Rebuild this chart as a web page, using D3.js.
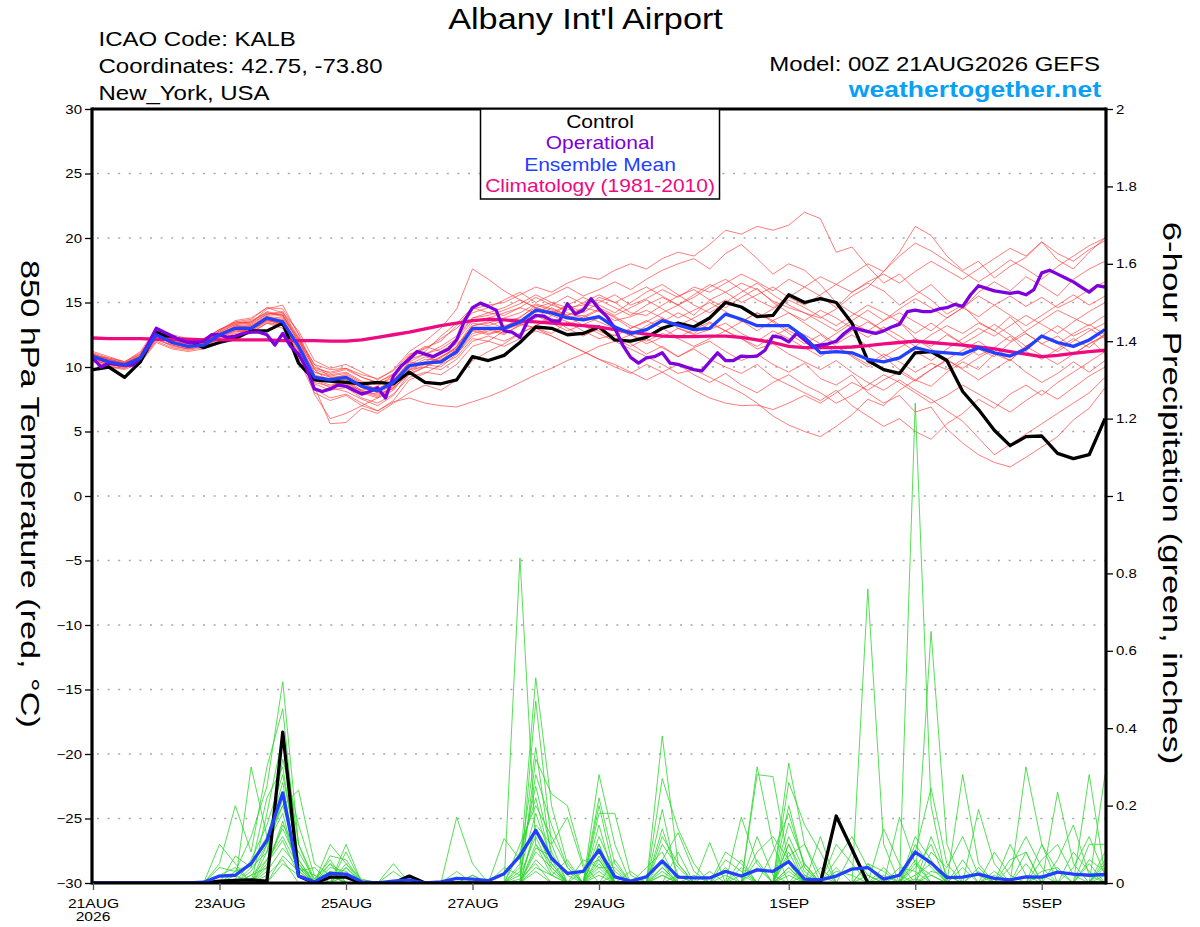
<!DOCTYPE html>
<html>
<head>
<meta charset="utf-8">
<script src="https://cdn.jsdelivr.net/npm/d3@7"></script>
<style>
  body { margin: 0; background: #fff; }
  svg { display: block; font-family: "Liberation Sans", Arial, sans-serif; }
</style>
</head>
<body>
<svg id="chart" width="1200" height="927"></svg>
<script>
//run info
var runStart = Date.UTC(2026, 7, 21, 0);
var stepHours = 6;      // ensemble output
var opStepHours = 3;    // operational output
var runDays = 16;

var tickDates = ['2026-08-21', '2026-08-23', '2026-08-25', '2026-08-27', '2026-08-29', '2026-09-01', '2026-09-03', '2026-09-05'];
var tickLabels = ['21AUG', '23AUG', '25AUG', '27AUG', '29AUG', '1SEP', '3SEP', '5SEP'];
var tempTicks = [30, 25, 20, 15, 10, 5, 0, -5, -10, -15, -20, -25, -30];
var precipTicks = [0, 0.2, 0.4, 0.6, 0.8, 1, 1.2, 1.4, 1.6, 1.8, 2];
var legendItems = ['Control', 'Operational', 'Ensemble Mean', 'Climatology (1981-2010)'];

//850 hPa temperature, 6-hourly
var controlTemp = [9.8,10.0,9.2,10.4,12.7,12.2,12.1,11.5,11.9,12.2,12.8,12.8,13.4,
  10.3,9.0,8.9,8.8,8.7,8.8,8.7,
  9.6,8.8,8.7,9.0,10.8,10.5,10.9,11.9,13.1,13.0,12.5,12.6,13.1,
  12.1,12.0,12.3,13.0,13.4,13.1,13.8,15.0,14.65,13.9,14.0,15.6,
  15.0,15.3,15.0,13.4,10.5,9.8,9.5,11.1,11.2,10.5,8.1,6.7,5.1,3.9,4.6,4.65,3.3,2.9,3.2,6.0];
var meanTemp = [10.8,10.4,10.15,10.7,12.5,11.9,11.6,11.7,12.5,13.0,13.0,13.8,13.5,
  11.6,9.2,9.0,9.2,8.5,8.15,8.8,
  10.1,10.3,10.4,11.2,13.0,13.0,13.0,13.5,14.4,14.2,13.8,13.65,13.9,
  13.1,12.6,12.9,13.6,13.25,12.9,13.0,14.1,13.7,13.2,13.2,13.2,
  12.3,11.1,11.2,11.1,10.6,10.4,10.7,11.5,11.2,11.1,11.0,11.5,11.1,10.85,11.4,12.4,11.9,11.6,12.1,12.9];
var climTemp = [12.25,12.2,12.2,12.2,12.15,12.15,12.15,12.1,12.1,12.1,12.1,12.1,12.05,12.05,12.05,12.0,12.0,
  12.1,12.3,12.5,12.7,12.95,13.2,13.4,13.6,13.7,13.65,13.55,13.5,13.4,13.3,13.2,13.1,
  12.9,12.7,12.55,12.4,12.35,12.35,12.4,12.4,12.3,12.1,11.9,11.6,11.5,11.5,11.5,11.55,
  11.65,11.8,11.9,12.0,11.9,11.8,11.7,11.55,11.4,11.2,11.0,10.8,10.9,11.05,11.2,11.3];
//operational, 3-hourly
var opTemp = [10.7,10.0,10.3,10.2,10.15,10.15,10.7,11.8,13.0,12.7,
  12.4,12.1,11.9,11.9,12.0,12.5,12.5,12.3,12.4,12.6,
  12.7,12.7,12.5,11.7,12.6,11.6,11.0,9.9,8.3,8.1,
  8.3,8.6,8.5,8.2,7.9,8.1,8.4,7.6,9.3,10.1,
  10.6,11.2,11.0,10.8,11.1,11.4,12.1,13.6,14.6,14.95,
  14.7,14.4,12.8,12.7,12.3,13.6,14.0,13.95,13.6,13.55,
  14.9,14.1,14.4,15.3,14.5,13.9,13.0,11.7,10.75,10.3,
  10.7,10.8,11.1,10.3,10.2,10.0,9.8,9.7,10.4,11.1,
  10.5,10.5,10.85,10.8,10.85,11.3,12.4,12.3,11.95,12.6,
  12.1,11.6,11.7,11.8,12.0,12.6,13.05,12.9,12.75,12.6,
  12.8,13.1,13.3,14.3,14.4,14.3,14.3,14.5,14.6,14.85,
  14.7,15.6,16.3,16.1,15.9,15.8,15.7,15.8,15.6,16.0,
  17.3,17.5,17.2,16.9,16.6,16.2,15.8,16.3,16.2];

//ensemble members, temperature
var t01 = [11.0,10.6,10.3,11.0,12.8,12.4,12.0,12.1,12.9,13.4,13.6,14.2,14.0, 12.2,10.0,9.5,9.8,9.2,8.8,9.5,
  10.8,11.5,12.0,13.2,14.5,14.8,15.0,15.6,16.2,15.8,16.5,17.0,16.8, 17.5,18.0,17.6,18.4,18.9,18.6,19.5,20.6,20.3,20.9,20.6,21.0,
  22.0,21.5,18.9,19.3,17.8,16.5,17.2,16.0,15.2,14.1,14.8,13.5,12.8,13.9,12.6,11.8,12.4,11.5,12.2,11.0];
var t02 = [10.6,10.2,10.0,10.5,12.2,11.7,11.4,11.6,12.3,12.8,12.9,13.7,13.2, 11.0,8.8,8.5,8.9,8.1,7.9,8.3,
  9.6,10.2,10.0,11.0,12.6,12.9,12.5,13.3,14.0,13.6,13.2,13.9,14.5, 13.8,13.0,13.5,14.2,14.8,14.0,15.2,15.8,16.5,16.0,15.1,14.6,
  14.2,13.8,14.5,15.5,16.2,17.4,18.9,20.9,20.2,18.6,17.5,18.2,16.9,17.8,18.5,19.7,18.3,17.6,18.9,20.0];
var t03 = [10.9,10.5,10.2,10.8,12.6,12.0,11.8,11.5,12.3,13.2,13.1,13.9,13.6, 11.3,8.3,7.6,7.9,7.2,6.6,7.4,
  9.0,9.5,10.2,10.8,12.2,12.0,12.8,13.4,13.0,12.6,13.5,12.8,12.2, 12.5,11.8,11.0,11.6,10.8,11.5,12.0,11.2,10.5,11.0,10.2,9.6,
  10.3,9.1,8.6,9.4,8.0,7.2,7.8,6.5,6.9,5.2,4.1,3.2,2.6,2.25,3.0,3.8,4.6,5.9,6.8,8.4];
var t04 = [10.7,10.3,10.1,10.6,12.4,11.8,11.5,11.8,12.6,12.9,12.8,13.6,13.4, 11.8,9.6,9.3,9.5,8.8,8.2,8.9,
  10.4,10.2,10.8,11.5,13.2,13.5,13.0,13.9,14.6,14.3,14.0,13.2,12.6, 12.0,11.4,10.8,10.2,9.5,9.8,9.2,8.6,8.0,7.2,6.2,5.5,
  5.0,4.6,5.4,6.3,7.5,7.0,8.2,9.0,8.5,9.6,10.4,9.8,11.0,10.5,11.6,12.3,11.8,12.6,13.3,12.5];
var t05 = [10.8,10.3,10.2,10.9,12.9,12.3,11.9,12.0,12.7,13.3,13.4,14.5,14.8, 12.5,8.5,5.6,5.7,6.8,6.4,7.2,
  8.0,8.6,8.2,9.0,10.5,11.2,11.8,12.6,13.2,14.0,14.8,14.2,15.0, 15.6,14.8,15.3,16.0,15.4,16.2,15.8,16.5,17.2,16.6,15.9,16.8,
  16.2,15.5,14.6,15.8,16.5,15.9,14.8,15.6,16.4,15.2,14.5,15.8,16.6,15.9,17.0,16.3,15.5,16.8,17.6,18.2];
var t06 = [11.2,10.8,10.4,11.2,13.0,12.5,12.2,12.0,12.8,13.6,13.8,14.6,14.2, 12.8,10.5,9.9,10.2,9.6,9.0,9.8,
  11.2,12.0,13.0,14.5,17.6,16.8,15.9,15.2,14.6,15.0,14.2,13.8,14.4, 13.9,13.2,12.8,13.5,14.2,13.6,12.9,13.4,12.6,12.0,12.8,12.2,
  11.5,10.8,11.6,10.9,10.2,11.0,10.4,9.6,10.3,9.8,10.6,11.4,10.8,11.9,12.6,11.8,11.2,12.0,12.8,13.4];
var t07 = [10.5,10.0,9.8,10.3,11.9,11.4,11.2,11.4,12.0,12.5,12.6,13.4,13.0, 10.6,8.0,7.4,7.8,7.0,6.6,7.3,
  7.6,7.2,7.0,6.9,7.3,7.7,8.2,8.8,9.4,9.9,10.5,11.0,11.6, 12.0,12.5,11.8,12.3,13.0,12.6,13.4,12.8,12.2,11.6,12.4,13.0,
  12.5,11.8,12.6,13.4,12.8,13.6,14.2,13.5,12.8,13.8,14.6,13.9,14.8,15.5,14.7,15.4,14.6,15.2,16.0,16.6];
var t08 = [10.9,10.6,10.3,10.9,12.6,12.1,11.8,11.9,12.8,13.4,13.5,14.3,14.0, 12.0,9.9,9.6,9.9,9.4,9.1,9.7,
  11.0,11.4,12.2,13.0,14.2,14.6,15.2,15.8,15.0,15.6,16.2,15.5,16.0, 16.6,16.0,16.8,17.5,18.0,18.4,17.6,18.8,19.5,18.4,17.2,18.0,
  17.5,16.4,15.0,14.2,13.6,12.8,13.5,12.2,11.6,12.5,11.8,10.9,11.5,12.4,11.2,10.6,11.4,12.2,11.5,12.6];
var t09 = [10.6,10.4,10.1,10.5,12.3,12.0,11.6,11.6,12.4,12.9,13.0,13.6,13.6, 11.5,9.2,8.9,9.0,8.4,8.0,8.6,
  10.0,10.6,10.5,11.6,13.4,13.2,13.6,13.8,14.8,14.4,13.9,14.0,13.5, 13.0,12.4,13.2,13.8,13.0,12.5,12.9,14.2,13.6,12.8,13.6,14.2,
  13.4,12.6,11.8,12.5,11.6,10.8,11.5,12.2,11.4,10.6,11.3,12.0,11.2,10.5,11.6,12.4,11.8,11.0,11.8,12.5];
var t10 = [10.8,10.2,10.0,10.6,12.5,11.9,11.5,11.8,12.5,13.0,12.9,13.7,13.3, 11.4,9.4,9.0,8.7,8.0,7.6,8.2,
  9.8,10.0,10.6,11.0,12.4,12.8,13.2,13.6,14.5,14.0,13.5,13.2,12.8, 12.2,11.6,12.2,11.5,10.8,11.4,10.6,10.0,9.5,10.2,9.2,8.6,
  8.0,7.4,8.2,7.0,6.2,5.4,6.0,5.0,4.4,5.6,6.4,7.5,6.8,7.9,8.6,7.8,8.8,9.6,10.4,11.2];
var t11 = [11.0,10.5,10.2,10.7,12.6,12.1,11.8,11.9,12.6,13.1,13.2,13.9,13.8, 12.1,9.8,9.4,9.6,8.9,8.6,9.2,
  10.6,11.0,11.4,12.2,13.8,14.0,14.4,14.9,15.6,15.0,14.6,14.8,15.2, 14.6,14.0,14.8,15.4,14.8,15.6,16.4,15.8,15.0,15.6,16.2,15.4,
  14.8,15.6,16.4,15.8,16.6,17.2,16.5,17.4,18.2,17.5,16.8,17.6,18.4,19.2,18.6,19.7,18.8,18.2,19.1,19.8];
var t12 = [10.4,10.0,9.9,10.4,12.0,11.5,11.3,11.5,12.2,12.6,12.8,13.5,13.2, 10.8,8.7,8.2,8.4,7.6,7.2,7.9,
  9.2,9.6,9.4,10.2,11.6,12.0,11.6,12.2,12.8,12.4,11.8,11.2,10.6, 10.2,9.6,9.0,9.6,10.2,9.4,8.8,9.5,8.6,8.0,8.8,9.4,
  8.6,8.0,7.2,7.8,8.6,9.4,8.8,8.0,7.2,7.8,8.6,7.9,7.2,6.5,7.4,8.2,7.5,8.4,9.3,10.0];
var t13 = [10.9,10.7,10.4,11.0,12.9,12.3,12.1,12.2,12.9,13.5,13.7,14.6,14.5, 12.6,9.8,8.8,8.6,8.2,8.5,9.4,
  10.9,11.6,11.2,12.0,13.6,13.8,14.2,14.6,14.2,14.8,15.5,14.9,14.6, 14.0,14.6,15.2,14.5,13.8,14.4,15.0,14.3,13.5,14.2,13.6,12.8,
  12.2,11.4,12.0,12.8,13.5,12.8,12.0,11.2,10.5,11.4,12.2,13.0,12.4,13.2,14.0,13.3,12.6,13.5,14.3,15.0];
var t14 = [10.7,10.4,10.2,10.6,12.4,11.8,11.6,11.9,12.6,13.1,13.2,14.0,14.1, 11.9,7.9,6.0,6.4,7.0,7.6,8.4,
  9.4,10.0,10.8,11.4,12.8,13.0,12.6,13.2,13.8,14.6,14.0,14.5,15.4, 15.0,14.2,14.0,14.8,15.5,16.0,15.2,14.6,15.4,16.1,15.0,14.2,
  13.6,14.4,13.8,13.0,12.3,13.1,12.4,11.6,12.5,13.2,12.6,13.4,12.8,12.0,12.8,13.6,14.4,13.8,13.2,14.0];
var t15 = [10.6,10.1,9.9,10.5,12.2,11.6,11.4,11.6,12.3,12.7,12.9,13.6,13.3, 11.2,9.0,8.6,8.8,8.1,7.7,8.4,
  9.9,10.4,11.0,11.8,12.8,12.5,12.9,13.5,14.0,13.4,12.8,13.3,13.8, 13.2,12.5,12.0,12.6,12.2,11.6,12.2,12.8,12.2,11.4,11.8,11.0,
  10.4,9.8,10.5,9.6,8.8,8.2,9.0,8.2,7.5,6.6,5.8,4.5,3.2,4.0,4.8,5.6,6.4,7.2,8.0,9.2];
var t16 = [11.1,10.7,10.4,11.1,12.8,12.3,12.0,12.2,12.9,13.5,13.4,14.1,14.3, 12.3,10.2,9.8,9.9,9.2,8.8,9.4,
  10.8,11.2,12.4,13.4,14.6,14.2,14.6,15.2,14.6,14.2,14.8,15.4,14.8, 14.2,15.0,15.8,16.4,15.6,14.8,14.2,15.0,15.8,16.5,15.6,14.8,
  14.2,13.5,12.8,13.6,14.4,13.6,14.5,15.3,14.6,13.8,14.6,15.5,14.8,14.0,13.2,14.0,14.8,15.6,14.8,15.5];
var t17 = [10.5,10.2,10.0,10.4,12.1,11.7,11.4,11.7,12.4,12.8,12.7,13.4,13.2, 11.0,9.0,8.4,8.1,7.5,7.0,7.8,
  9.5,10.0,9.8,10.6,12.0,12.4,12.0,12.6,13.2,13.8,13.0,12.4,13.0, 12.4,13.0,13.6,13.0,12.3,12.9,13.5,12.8,13.5,14.2,13.5,12.6,
  11.8,12.5,11.6,10.8,10.0,10.8,9.8,9.0,9.8,10.6,9.8,9.0,9.8,10.6,9.6,8.8,9.5,10.4,9.6,10.5];
var t18 = [10.8,10.5,10.3,10.8,12.7,12.2,11.9,11.8,12.5,13.0,13.1,13.8,13.7, 11.7,9.3,9.1,9.4,8.7,8.3,9.0,
  10.2,10.8,10.4,11.4,13.0,12.6,12.9,13.3,13.0,12.4,11.8,11.2,10.6, 10.0,9.5,10.2,9.6,8.9,8.2,7.6,7.2,7.0,7.05,6.7,7.2,
  7.8,7.2,8.0,8.8,8.2,9.0,9.6,8.9,9.8,10.5,9.9,10.7,11.4,10.8,11.6,10.9,10.2,11.0,11.8,12.4];
var t19 = [10.7,10.3,10.1,10.7,12.5,12.0,11.7,11.8,12.6,13.2,13.3,14.1,14.2, 12.2,10.2,9.2,9.0,8.2,7.8,8.5,
  9.8,10.3,10.7,11.6,13.2,13.4,13.8,14.2,14.9,14.5,14.0,14.6,14.3, 13.6,13.9,14.4,13.8,13.2,13.8,14.5,15.2,14.6,13.8,14.5,15.2,
  14.6,13.9,13.2,14.0,14.8,14.2,13.5,12.6,13.4,12.6,11.8,12.5,13.3,12.5,11.6,12.4,13.2,12.4,13.0,12.2];
var t20 = [11.0,10.6,10.3,10.8,12.7,12.2,11.8,11.9,12.7,13.3,13.5,14.2,13.9, 11.9,9.6,9.2,9.3,8.6,8.2,9.0,
  10.4,11.0,11.6,12.4,13.8,14.2,14.0,14.6,15.4,14.8,14.4,15.0,15.6, 15.0,15.6,16.2,15.5,14.8,15.4,16.2,16.8,16.0,15.2,14.6,15.4,
  16.2,17.0,16.4,17.2,18.0,17.4,18.6,19.6,19.0,18.2,17.4,16.6,17.4,18.3,17.6,16.8,17.8,18.6,19.4,20.0];

//6-hour precipitation (inches)
var controlPrecip = [0,0,0,0,0,0,0,0,.005,.007,.008,.005,.39,
  .018,0,.015,.015,0,0,0,.018,0,0,0,0,0,
  0,0,0,0,0,0,0,0,0,0,0,0,0,
  0,0,0,0,0,0,0,0,.173,.087,0,0,0,
  0,0,0,0,0,0,0,0,0,0,0,0,0];
var meanPrecip = [0,0,0,0,0,0,0,.002,.018,.02,.05,.11,.233,
  .018,.003,.025,.023,.003,0,.005,.008,0,.003,.012,.01,.006,
  .024,.07,.136,.064,.025,.03,.085,.016,.005,.016,.057,.015,.013,
  .013,.03,.018,.034,.03,.055,.01,.008,.018,.036,.04,.01,.02,
  .08,.052,.014,.015,.023,.012,.008,.016,.015,.028,.023,.02,.022];

var p01 = [0,0,0,0,0,0,0,0,0,.03,.12,.25,.52, .1,.01,.05,0,0,0,0,0,0,0,0,0,0,
  0,.04,.53,.2,.05,0,.1,0,0,0,.38,.05,0, 0,0,0,0,0,.1,0,0,0,0,0,0,0, 1.24,.2,0,0,0,0,0,.05,0,0,0,.28,.02];
var p02 = [0,0,0,0,0,0,0,0,.05,.2,.08,.3,.45, .05,0,0,.1,0,0,0,0,0,0,0,0,0,
  0,.84,.1,.05,0,0,.22,.05,0,0,0,0,0, 0,0,0,.3,.1,0,0,0,0,0,.76,.1,0, 0,0,0,.28,.05,0,0,0,0,0,0,0,0];
var p03 = [0,0,0,0,0,0,0,0,0,0,.3,.12,.2, .24,.05,.02,0,0,0,0,0,0,0,.17,.05,0,
  0,0,.47,.1,0,0,.28,.1,0,0,.27,.14,.05, 0,0,0,0,0,.31,.1,0,0,0,0,0,0, 0,.65,.1,0,0,0,0,.3,.1,0,0,0,0];
var p04 = [0,0,0,0,0,0,0,0,.1,.05,0,.18,.38, .1,0,.1,.05,0,0,0,0,0,0,0,0,0,
  0,0,.32,.23,.2,.05,0,0,0,0,.19,0,0, 0,0,.17,.05,0,.26,.15,.08,0,0,0,0,0, .08,.245,.05,0,0,0,0,0,0,.235,.05,0,0];
var p05 = [0,0,0,0,0,0,0,0,0,.07,.04,.22,.3, .04,0,0,.08,0,0,.05,0,0,0,0,0,0,
  .115,.06,.25,.08,0,0,.18,.18,.02,0,0,0,0, .105,0,0,.28,.275,.05,0,0,0,0,0,.14,.05, 0,0,0,0,0,0,0,0,0,0,0,0,.28];
var p06 = [0,0,0,0,0,0,0,0,0,0,.06,.15,.28, .06,0,.07,.06,0,0,0,0,0,0,0,0,0,
  0,.1,.2,.12,.04,0,.15,0,0,0,.1,.04,0, 0,0,0,0,0,.155,.05,0,.1,.05,0,0,0, 0,0,0,0,.19,.05,0,0,0,0,0,.1,.1];
var p07 = [0,0,0,0,0,0,0,0,.02,.04,0,.08,.22, .03,.04,0,0,0,0,0,0,0,0,0,.02,0,
  0,.03,.18,.06,0,.03,.08,0,0,.04,.08,0,0, 0,.06,.03,0,0,.08,0,.12,0,0,0,0,.17, .05,0,0,0,0,0,.04,.12,.04,0,0,0,0];
var p08 = [0,0,0,0,0,0,0,0,0,0,0,.1,.18, .02,0,.04,.03,0,0,0,0,0,0,0,0,0,
  0,0,.15,.1,.17,.04,.06,0,0,0,.06,.13,.03, 0,0,0,.08,.12,.06,0,0,.06,.12,.04,0,0, .06,0,0,.06,0,0,0,0,0,0,.08,.03,0];
var p09 = [0,0,0,0,0,0,0,0,0,0,.02,.06,.14, .05,0,0,.04,0,0,0,.02,0,0,0,0,0,
  0,.02,.12,.03,0,0,.12,.03,0,0,0,0,.02, 0,.08,.05,0,0,.12,.03,0,0,0,.05,.03,0, 0,.12,.02,0,.03,0,0,0,.06,.1,.02,0,.05];
var p10 = [0,0,0,0,0,0,0,0,0,.02,0,.05,.11, .02,0,.03,.02,0,0,0,0,0,0,.03,0,0,
  0,0,.08,.04,0,0,.05,0,0,0,.04,0,0, 0,0,0,.04,0,0,.05,0,0,.08,.02,0,0, .1,.04,0,0,0,.08,.02,0,0,0,0,.06,.03];
var p11 = [0,0,0,0,0,0,0,0,0,0,.04,.08,.32, .15,.02,0,.02,0,0,0,0,0,0,0,0,0,
  0,.05,.35,.06,.03,0,0,.06,0,0,.14,.02,0, 0,0,.06,0,0,.2,.04,0,0,0,0,0,0, .12,.06,0,0,0,0,.1,.02,0,0,0,0,.08];
var p12 = [0,0,0,0,0,0,0,0,0,0,0,.04,.15, .08,.01,.06,0,0,0,.03,0,0,0,0,0,0,
  .04,.02,.28,.15,.04,0,.2,.02,0,0,0,.08,0, 0,0,0,0,.08,.18,.04,0,0,0,.05,0,0, 0,.08,.04,.12,.02,0,0,0,0,.06,.15,.02,0];
var p13 = [0,0,0,0,0,0,0,0,0,0,0,0,.07, .03,0,.02,0,0,0,0,0,0,0,0,0,0,
  0,0,.1,.02,0,.06,.04,0,0,0,.02,0,0, 0,0,0,.12,.02,0,0,.04,0,0,0,0,0, .04,.1,0,0,0,0,0,.08,0,0,0,0,.04];
var p14 = [0,0,0,0,0,0,0,0,0,0,0,.03,.09, .04,0,0,.05,.01,0,0,0,0,0,0,0,0,
  0,0,.06,.02,0,0,.03,0,0,.02,.05,0,0, 0,.04,0,0,0,.04,0,0,.03,.02,0,0,.04, .03,0,0,0,0,.02,0,0,.03,.04,0,0,0];
var p15 = [0,0,0,0,0,0,0,0,.04,.03,.05,.12,.26, .02,0,.02,0,0,0,0,0,0,0,0,0,0,
  0,.08,.22,.05,0,0,.1,0,.03,0,.12,.05,0, 0,0,0,.06,0,.1,.02,0,0,0,0,.04,0, .02,.05,0,0,.04,0,.06,.08,0,0,0,.05,0];
var p16 = [0,0,0,0,0,0,0,0,0,0,.03,.1,.2, .06,0,.05,.02,0,0,0,0,0,0,0,.02,0,
  0,0,.09,.07,.02,0,.07,0,0,0,.03,0,0, .03,0,0,0,0,.07,.1,.02,0,0,0,0,0, 0,.03,.02,0,0,0,0,0,.1,.03,0,0,.02];
var p17 = [0,0,0,0,0,0,0,0,0,.01,0,.06,.12, .04,.02,0,.04,0,0,0,0,0,0,0,0,0,
  0,0,.14,.04,0,0,.04,.04,0,0,0,.02,0, 0,0,.04,0,0,.04,0,0,.04,0,0,0,0, .05,.02,0,0,0,0,0,0,0,0,.04,.12,.02];
var p18 = [0,0,0,0,0,0,0,0,0,0,0,0,.05, .02,0,.03,0,0,0,0,0,0,0,0,0,0,
  0,.01,.05,0,0,0,.02,0,0,0,.02,0,0, 0,0,0,0,0,.02,0,0,0,0,0,.02,0, 0,.02,0,0,0,.03,0,0,0,0,0,0,0];
var p19 = [0,0,0,0,0,0,0,0,0,0,.02,.04,.16, .03,0,0,0,0,0,0,0,0,0,0,0,0,
  0,0,.04,.02,.06,0,.06,0,0,0,.04,0,0, 0,.02,0,0,0,.03,0,0,0,0,.02,0,.02, 0,0,0,.04,0,0,0,0,0,0,0,0,.06];
var p20 = [0,0,0,0,0,0,0,0,0,0,0,.02,.06, 0,0,0,.02,0,0,0,0,0,0,0,0,0,
  0,0,.03,0,0,0,0,.02,0,0,0,0,0, 0,0,.02,0,0,0,.02,0,0,0,0,0,0, .01,0,0,0,0,0,0,0,.02,0,0,0,0];

var tempMembers = [t01,t02,t03,t04,t05,t06,t07,t08,t09,t10,t11,t12,t13,t14,t15,t16,t17,t18,t19,t20];
var precipMembers = [p01,p02,p03,p04,p05,p06,p07,p08,p09,p10,p11,p12,p13,p14,p15,p16,p17,p18,p19,p20];

//colors
var col = {
  member: '#ff3c3c',
  precip: '#2ed82e',
  control: '#000000',
  oper: '#7e00dc',
  mean: '#2140ff',
  clim: '#ee0a80',
  site: '#0aa0f5',
  grid: '#a8a8a8'
};

//sanity check on lengths
var nSteps = runDays * 24 / stepHours + 1;
tempMembers.concat(precipMembers, [controlTemp, meanTemp, climTemp, controlPrecip, meanPrecip]).forEach(function(a, k) {
  if (a.length !== nSteps) throw new Error('series ' + k + ' has ' + a.length + ' values');
});
if (opTemp.length !== runDays * 24 / opStepHours + 1) throw new Error('opTemp length ' + opTemp.length);

//SCALES
var svg = d3.select('#chart');
var plotL = 93, plotR = 1105, plotT = 109, plotB = 883;

var x = d3.scaleUtc()
  .domain([new Date(runStart), new Date(runStart + runDays * 864e5)])
  .range([plotL, plotR]);
var yT = d3.scaleLinear().domain([-30, 30]).range([plotB, plotT]);
var yP = d3.scaleLinear().domain([0, 2]).range([plotB, plotT]);

function timeAt(i, step) { return new Date(runStart + i * step * 3600e3); }

function lineT(step) {
  return d3.line().x(function(d, i) { return x(timeAt(i, step)); }).y(function(d) { return yT(d); });
}
function lineP(step) {
  return d3.line().x(function(d, i) { return x(timeAt(i, step)); }).y(function(d) { return yP(d); });
}

//text with the wide look of the original font
function stext(parent, px, py, s, o) {
  o = o || {};
  var g = parent.append('g')
    .attr('transform', 'translate(' + px + ',' + py + ')' + (o.rot ? ' rotate(' + o.rot + ')' : '') + ' scale(' + (o.sx || 1.2) + ',1)');
  return g.append('text')
    .attr('text-anchor', o.anchor || 'start')
    .attr('font-size', o.size || 20)
    .attr('font-weight', o.weight || 'normal')
    .attr('fill', o.color || '#000')
    .text(s);
}

//gridlines
svg.append('g').selectAll('line')
  .data(tempTicks.filter(function(v) { return v > -30 && v < 30; }))
  .enter().append('line')
  .attr('x1', plotL + 4).attr('x2', plotR)
  .attr('y1', function(d) { return yT(d); }).attr('y2', function(d) { return yT(d); })
  .attr('stroke', col.grid).attr('stroke-width', 1.4).attr('stroke-dasharray', '2,8.6');

svg.append('clipPath').attr('id', 'plotclip')
  .append('rect').attr('x', plotL).attr('y', plotT).attr('width', plotR - plotL).attr('height', plotB - plotT);

var plot = svg.append('g').attr('clip-path', 'url(#plotclip)');

//members
plot.append('g').selectAll('path').data(tempMembers).enter().append('path')
  .attr('d', lineT(stepHours))
  .attr('fill', 'none').attr('stroke', col.member).attr('stroke-width', 0.9).attr('stroke-opacity', 0.75);
plot.append('g').selectAll('path').data(precipMembers).enter().append('path')
  .attr('d', lineP(stepHours))
  .attr('fill', 'none').attr('stroke', col.precip).attr('stroke-width', 0.9).attr('stroke-opacity', 0.9);

//bold lines
function bold(data, gen, color) {
  plot.append('path').datum(data).attr('d', gen)
    .attr('fill', 'none').attr('stroke', color).attr('stroke-width', 3.3)
    .attr('stroke-linejoin', 'round');
}
bold(controlTemp, lineT(stepHours), col.control);
bold(controlPrecip, lineP(stepHours), col.control);
bold(climTemp, lineT(stepHours), col.clim);
bold(opTemp, lineT(opStepHours), col.oper);
bold(meanTemp, lineT(stepHours), col.mean);
bold(meanPrecip, lineP(stepHours), col.mean);

//AXES
var axL = svg.append('g').attr('transform', 'translate(92,0)')
  .call(d3.axisLeft(yT).tickValues(tempTicks).tickSize(7).tickSizeOuter(0).tickPadding(9).tickFormat(d3.format('d')));
var axR = svg.append('g').attr('transform', 'translate(1106,0)')
  .call(d3.axisRight(yP).tickValues(precipTicks).tickSize(7).tickSizeOuter(0).tickPadding(10)
    .tickFormat(function(d) { return String(+d.toFixed(1)); }));
var axB = svg.append('g').attr('transform', 'translate(0,883)')
  .call(d3.axisBottom(x).tickValues(tickDates.map(function(s) { return new Date(s + 'T00:00Z'); }))
    .tickSize(7).tickSizeOuter(0).tickPadding(6)
    .tickFormat(function(d, i) { return tickLabels[i]; }));

[axL, axR, axB].forEach(function(ax) {
  ax.select('.domain').attr('stroke', '#000').attr('stroke-width', 3.2);
  ax.selectAll('.tick line').attr('stroke', '#000').attr('stroke-width', 1.3);
  ax.selectAll('text').attr('font-family', '"Liberation Sans", Arial, sans-serif').attr('fill', '#000');
});
axB.selectAll('.tick line').attr('stroke', '#555');
axL.selectAll('text').attr('font-size', 12.5).attr('x', -10 / 1.2).attr('transform', 'scale(1.2,1)');
axR.selectAll('text').attr('font-size', 12.5).attr('x', 10 / 1.2).attr('transform', 'scale(1.2,1)');
axB.selectAll('text').attr('font-size', 13).attr('transform', 'scale(1.2,1)')
  .attr('x', 0).attr('dy', '0.95em');
//extend the axis lines across the corners
axL.select('.domain').attr('d', 'M0,' + (plotT - 1.5) + 'V' + (plotB + 1.5));
axR.select('.domain').attr('d', 'M0,' + (plotT - 1.5) + 'V' + (plotB + 1.5));
axB.select('.domain').attr('d', 'M92,0H1106');
svg.append('line').attr('x1', 92).attr('x2', 1106).attr('y1', plotT).attr('y2', plotT)
  .attr('stroke', '#000').attr('stroke-width', 3);

stext(svg, 93, 921, '2026', { size: 13, anchor: 'middle' });

//axis titles
stext(svg, 21, 494, '850 hPa Temperature (red, \u00B0C)', { size: 25, anchor: 'middle', rot: 90, sx: 1.37 });
stext(svg, 1163, 493, '6-hour Precipitation (green, inches)', { size: 25, anchor: 'middle', rot: 90, sx: 1.39 });

//header
stext(svg, 585.5, 29, "Albany Int'l Airport", { size: 29, anchor: 'middle', sx: 1.18 });
stext(svg, 98.5, 45.7, 'ICAO Code: KALB', { size: 20 });
stext(svg, 98.5, 72.7, 'Coordinates: 42.75, -73.80', { size: 20 });
stext(svg, 98.5, 100, 'New_York, USA', { size: 20 });
stext(svg, 1100, 70.7, 'Model: 00Z 21AUG2026 GEFS', { size: 20, anchor: 'end' });
stext(svg, 1101, 96.5, 'weathertogether.net', { size: 22.5, anchor: 'end', weight: 'bold', color: col.site, sx: 1.18 });

//legend
svg.append('rect').attr('x', 480.5).attr('y', plotT).attr('width', 239).attr('height', 90)
  .attr('fill', '#fff').attr('stroke', '#000').attr('stroke-width', 1.5);
var legendColors = [col.control, col.oper, col.mean, col.clim];
legendItems.forEach(function(s, i) {
  stext(svg, 600, 127.5 + i * 21.6, s, { size: 17.5, anchor: 'middle', color: legendColors[i] });
});
</script>
</body>
</html>
